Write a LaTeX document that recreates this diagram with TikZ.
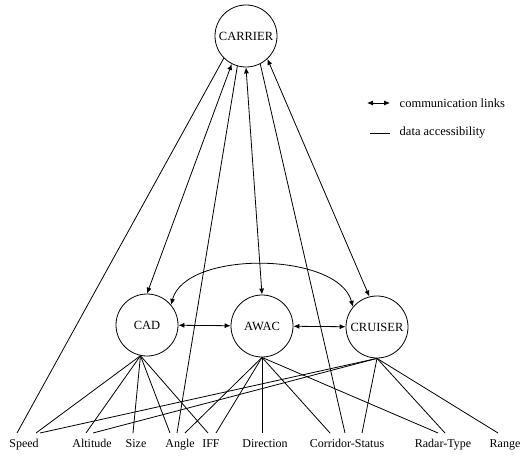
\documentclass[tikz,border=0pt]{standalone}
\usepackage{fontspec}
\setmainfont{Liberation Serif}
\usetikzlibrary{arrows.meta}

\begin{document}
\begin{tikzpicture}[x=1pt,y=1pt,line width=0.8pt,
  agent/.style={draw,circle,minimum size=62pt,inner sep=0pt,font=\fontsize{12.5}{14}\selectfont},
  attr/.style={anchor=north,inner ysep=5pt,inner xsep=0pt,text height=9pt,text depth=3pt,font=\fontsize{12}{14}\selectfont},
  link/.style={{Latex[length=6pt,width=5pt]}-{Latex[length=6pt,width=5pt]}},
  legtext/.style={anchor=west,font=\fontsize{12.5}{14}\selectfont}]
\useasboundingbox (0,0) rectangle (524,461);
\node[agent] (carrier) at (246,425) {CARRIER};
\node[agent] (cad) at (147,136) {CAD};
\node[agent] (awac) at (262,135) {AWAC};
\node[agent] (cruiser) at (377,134) {CRUISER};
\foreach \n/\t/\x in {speed/Speed/24, altitude/Altitude/92, size/Size/136, angle/Angle/180, iff/IFF/211,
    direction/Direction/265, corridor/Corridor-Status/347, radar/Radar-Type/443, range/Range/505}
  \node[attr] (\n) at (\x,28) {\t};
\draw[link] (carrier.243) -- (cad.north);
\draw[link] (carrier.south) -- (awac.north);
\draw[link] (carrier.313) -- (cruiser.104);
\draw[link] (cad) -- (awac);
\draw[link] (awac) -- (cruiser);
\draw[link] (cad.40) to[out=75,in=105,looseness=0.8] (cruiser.140);
\foreach \s/\t/\d in {carrier.225/speed/-7, carrier.254/angle/-3, carrier.297/corridor/-2,
    cad.258/speed/12, cad.258/altitude/-6, cad.258/size/-3, cad.258/angle/-10, cad.258/iff/-3,
    awac.south/angle/5, awac.south/iff/5, awac.south/direction/-3, awac.south/corridor/-17, awac.south/radar/-5,
    cruiser.south/speed/16, cruiser.south/altitude/1, cruiser.south/corridor/15, cruiser.south/radar/2, cruiser.south/range/-7}
  \draw (\s) -- ([xshift=\d pt]\t.north);
\coordinate (commA) at (367,358);
\coordinate (commB) at (390,358);
\draw[link] (commA) -- (commB);
\node[legtext] (commtext) at (396,358) {communication links};
\coordinate (dataA) at (370,328);
\coordinate (dataB) at (390,328);
\draw (dataA) -- (dataB);
\node[legtext] (datatext) at (396,328) {data accessibility};
\end{tikzpicture}
\end{document}
